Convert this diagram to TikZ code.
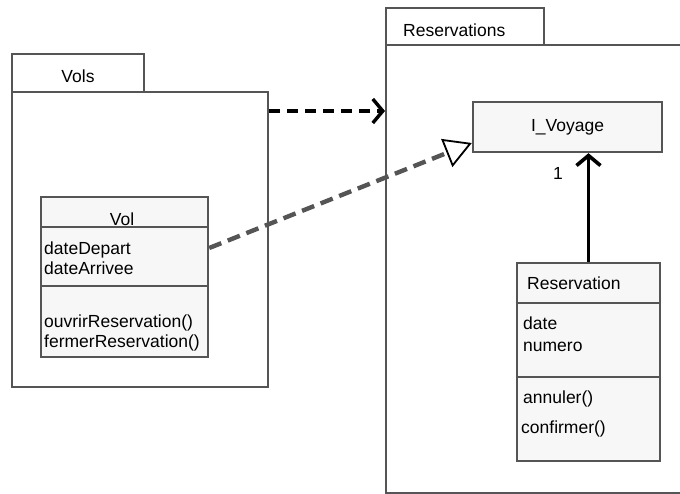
\documentclass[tikz,border=0pt]{standalone}
\usepackage{fontspec}
\setmainfont{Liberation Sans}
\usetikzlibrary{arrows.meta, positioning}

\definecolor{edge}{HTML}{555555}
\definecolor{classfill}{HTML}{F7F7F7}

\tikzset{
  pkgbox/.style={draw=edge, line width=2pt, fill=white, inner sep=0pt},
  classbox/.style={draw=edge, line width=2.4pt, fill=classfill, inner sep=0pt,
    font=\fontsize{17.5}{20}\selectfont},
  sepline/.style={draw=edge, line width=2.4pt},
  lbl/.style={font=\fontsize{17.5}{20}\selectfont, anchor=base west, inner sep=0pt},
  dep/.style={draw=black, line width=3.4pt, dash pattern=on 11pt off 7pt,
    -{Straight Barb[length=10pt, width=24pt]}},
  real/.style={draw=edge, line width=4.4pt, dash pattern=on 13pt off 7pt,
    -{Triangle[length=27pt, width=30pt, line width=1.8pt, color=black, fill=white]}},
  assoc/.style={draw=black, line width=3.6pt,
    -{Straight Barb[length=10pt, width=24pt]}},
}

\begin{document}
\begin{tikzpicture}[x=1pt, y=-1pt]
\useasboundingbox (0,0) rectangle (680,494);

% package Vols
\node [pkgbox, minimum width=256pt, minimum height=295pt] (vols) at (140,239.5) {};
\node [pkgbox, minimum width=132pt, minimum height=38pt] (volstab) at (78,73) {};
\node [lbl, anchor=base] (volsname) at (78,83) {Vols};

% package Reservations
\node [pkgbox, minimum width=306pt, minimum height=448pt] (resv) at (539,269) {};
\node [pkgbox, minimum width=158pt, minimum height=37pt] (resvtab) at (465,26.5) {};
\node [lbl] (resvname) at (403,37) {Reservations};

% class Vol
\node [classbox, minimum width=167pt, minimum height=160pt] (vol) at (124.5,277) {};
\draw [sepline] ([yshift=-31pt]vol.north west) -- ([yshift=-31pt]vol.north east);
\draw [sepline] ([yshift=-90pt]vol.north west) -- ([yshift=-90pt]vol.north east);
\node [lbl, anchor=base] (volname) at (122,226) {Vol};
\node [lbl] (vdep) at (44,255) {dateDepart};
\node [lbl] (varr) at (44,275) {dateArrivee};
\node [lbl] (vouv) at (44,327) {ouvrirReservation()};
\node [lbl] (vfer) at (44,348) {fermerReservation()};

% interface I_Voyage
\node [classbox, minimum width=189pt, minimum height=50pt] (voyage) at (567.5,127) {I\_Voyage};

% class Reservation
\node [classbox, minimum width=143pt, minimum height=198pt] (resa) at (588.5,362) {};
\draw [sepline] ([yshift=-41pt]resa.north west) -- ([yshift=-41pt]resa.north east);
\draw [sepline] ([yshift=-115pt]resa.north west) -- ([yshift=-115pt]resa.north east);
\node [lbl] (resaname) at (527,290) {Reservation};
\node [lbl] (rdate) at (523,330) {date};
\node [lbl] (rnum) at (523,352) {numero};
\node [lbl] (rann) at (523,403) {annuler()};
\node [lbl] (rconf) at (521,433) {confirmer()};

% connectors
\coordinate (depstart) at ([yshift=-20pt]vols.north east);
\draw [dep] (depstart) -- (depstart -| resv.west);
\draw [real] ([yshift=29pt]vol.east) -- ([yshift=-16pt]voyage.west);
\draw [assoc] (resa.north) -- (resa.north |- voyage.south);
\node [lbl, anchor=base] (mult) at (558,180) {1};
\end{tikzpicture}
\end{document}
